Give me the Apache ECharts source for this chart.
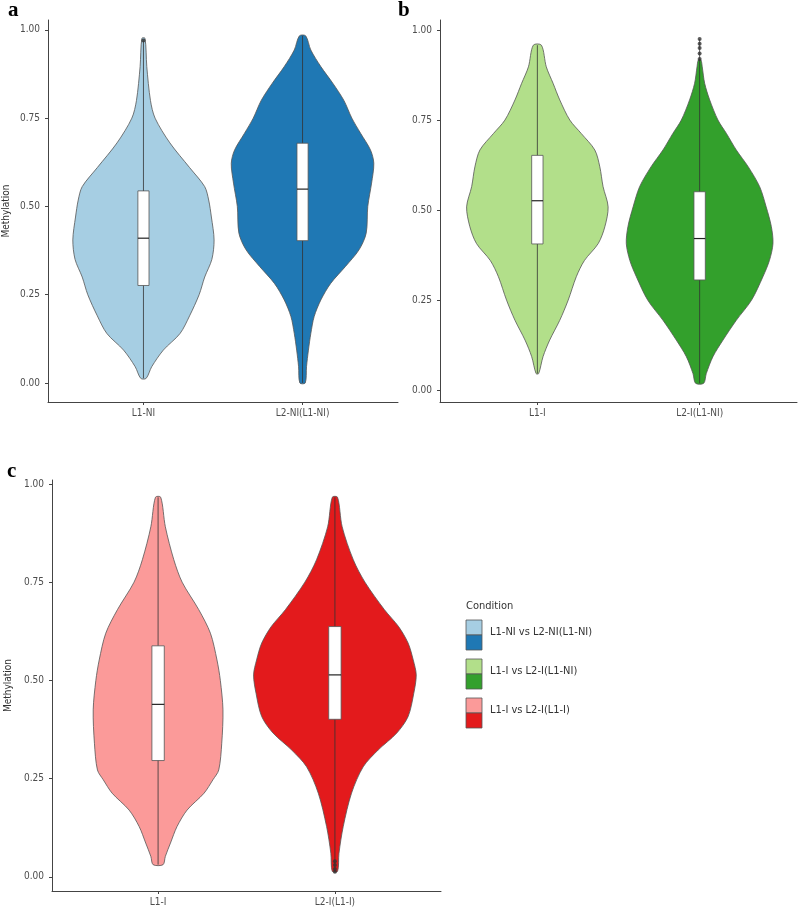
<!DOCTYPE html>
<html><head><meta charset="utf-8">
<script src="https://cdn.jsdelivr.net/npm/echarts@6/dist/echarts.min.js"></script>
<style>html,body{margin:0;padding:0;background:#fff}#chart{width:800px;height:916px}</style>
</head><body><div id="chart"></div>
<script>
const FONT = '"Liberation Sans Narrow","DejaVu Sans Condensed","Roboto",sans-serif';

// ---- categories & tick labels ----
const categoriesA = ['L1-NI', 'L2-NI(L1-NI)'];
const categoriesB = ['L1-I', 'L2-I(L1-NI)'];
const categoriesC = ['L1-I', 'L2-I(L1-I)'];
const yTicks = [0, 0.25, 0.5, 0.75, 1];
const legendLabels = ['L1-NI vs L2-NI(L1-NI)', 'L1-I vs L2-I(L1-NI)', 'L1-I vs L2-I(L1-I)'];

// ---- violin density profiles (methylation value, half-width) ----
const violinA1_y = [0.013,0.046,0.093,0.14,0.19,0.25,0.30,0.35,0.405,0.47,0.518,0.556,0.61,0.68,0.75,0.80,0.896,0.976];
const violinA1_w = [0.017,0.052,0.125,0.23,0.29,0.35,0.385,0.43,0.444,0.427,0.41,0.385,0.29,0.166,0.073,0.044,0.021,0.01];
const violinA2_y = [0.0,0.046,0.093,0.14,0.188,0.235,0.282,0.33,0.377,0.424,0.5,0.566,0.622,0.66,0.707,0.75,0.80,0.849,0.896,0.943,0.983];
const violinA2_w = [0.017,0.025,0.037,0.052,0.073,0.115,0.177,0.27,0.355,0.40,0.41,0.434,0.448,0.427,0.365,0.31,0.26,0.19,0.115,0.052,0.02];
const violinB1_y = [0.046,0.093,0.139,0.194,0.25,0.315,0.36,0.407,0.454,0.509,0.565,0.62,0.667,0.713,0.75,0.806,0.852,0.898,0.958];
const violinB1_w = [0.008,0.035,0.076,0.138,0.19,0.24,0.29,0.375,0.416,0.436,0.405,0.385,0.354,0.27,0.2,0.138,0.097,0.055,0.025];
const violinB2_y = [0.019,0.046,0.093,0.139,0.194,0.25,0.315,0.36,0.407,0.454,0.509,0.565,0.62,0.667,0.713,0.75,0.806,0.852,0.898,0.917];
const violinB2_w = [0.025,0.041,0.082,0.144,0.226,0.32,0.39,0.43,0.452,0.442,0.41,0.37,0.3,0.226,0.165,0.113,0.062,0.031,0.016,0.008];
const violinC1_y = [0.031,0.052,0.086,0.128,0.17,0.213,0.247,0.272,0.34,0.425,0.5,0.552,0.62,0.68,0.75,0.807,0.891,0.966];
const violinC1_w = [0.028,0.041,0.07,0.107,0.164,0.26,0.31,0.343,0.36,0.367,0.352,0.333,0.296,0.23,0.136,0.089,0.041,0.015];
const violinC2_y = [0.014,0.06,0.128,0.213,0.28,0.323,0.366,0.408,0.467,0.514,0.552,0.595,0.637,0.68,0.75,0.807,0.891,0.966];
const violinC2_w = [0.015,0.023,0.047,0.094,0.16,0.245,0.35,0.414,0.446,0.46,0.443,0.414,0.36,0.28,0.17,0.104,0.041,0.015];

// ---- box stats: [q1, median, q3, whiskerLow, whiskerHigh] ----
const boxA = [[0.276,0.41,0.544,0.013,0.97],[0.403,0.549,0.679,0.0,0.983]];
const boxB = [[0.406,0.526,0.652,0.046,0.958],[0.306,0.421,0.551,0.019,0.975]];
const boxC = [[0.296,0.439,0.588,0.031,0.966],[0.401,0.514,0.637,0.012,0.966]];

// ---- outliers [category, value] ----
const outliersA = [[1,0.97]];
const outliersB = [[2,0.92],[2,0.935],[2,0.95],[2,0.962],[2,0.975]];
const outliersC = [[2,0.013],[2,0.02],[2,0.03],[2,0.04]];

// ---- colours ----
const fillsA = ['#A6CEE3','#1F78B4'];
const fillsB = ['#B2DF8A','#33A02C'];
const fillsC = ['#FB9A99','#E31A1C'];

const grids = [
  {left:48, top:20, width:350, height:382},
  {left:440, top:20, width:357, height:382},
  {left:52, top:480, width:389, height:411}
];
const yRanges = [[-0.054,1.028],[-0.033,1.028],[-0.036,1.01]];
const cats = [categoriesA, categoriesB, categoriesC];
const yNames = ['Methylation','','Methylation'];

function xAxisFor(i){
  return {type:'value', gridIndex:i, min:0.4, max:2.6,
    splitLine:{show:false},
    axisLine:{show:true, onZero:false, lineStyle:{color:'#444', width:1}},
    axisTick:{show:true, customValues:[1,2], length:3, lineStyle:{color:'#444'}},
    axisLabel:{customValues:[1,2], formatter:v=>cats[i][Math.round(v)-1], color:'#4d4d4d', fontSize:10, fontFamily:FONT, margin:6}
  };
}
function yAxisFor(i){
  return {type:'value', gridIndex:i, min:yRanges[i][0], max:yRanges[i][1],
    splitLine:{show:false},
    name:yNames[i], nameLocation:'middle', nameRotate:90, nameGap:i===2?39:37,
    nameTextStyle:{color:'#333', fontSize:10, fontFamily:FONT},
    axisLine:{show:true, onZero:false, lineStyle:{color:'#444', width:1}},
    axisTick:{show:true, customValues:yTicks, length:3, lineStyle:{color:'#444'}},
    axisLabel:{customValues:yTicks, formatter:v=>v.toFixed(2), color:'#4d4d4d', fontSize:10, fontFamily:FONT, margin:8}
  };
}

function violinSeries(gi, profiles, boxes, fills){
  return {
    type:'custom', xAxisIndex:gi, yAxisIndex:gi, silent:true,
    data: boxes.map((b,i)=>[i+1, b[1]]),
    renderItem:(params, api)=>{
      const i = params.dataIndex, xc = i+1;
      const ys = profiles[i][0], ws = profiles[i][1];
      const pts = [];
      for (let k=0;k<ys.length;k++) pts.push(api.coord([xc+ws[k], ys[k]]));
      for (let k=ys.length-1;k>=0;k--) pts.push(api.coord([xc-ws[k], ys[k]]));
      const b = boxes[i], bw = 0.035;
      const tl = api.coord([xc-bw, b[2]]), br = api.coord([xc+bw, b[0]]);
      const m1 = api.coord([xc-bw, b[1]]), m2 = api.coord([xc+bw, b[1]]);
      const w1 = api.coord([xc, b[3]]), w2 = api.coord([xc, b[4]]);
      return {type:'group', children:[
        {type:'polygon', shape:{points:pts, smooth:0.3}, style:{fill:fills[i], stroke:'#555', lineWidth:0.8}},
        {type:'line', shape:{x1:w1[0], y1:w1[1], x2:w2[0], y2:w2[1]}, style:{stroke:'#333', lineWidth:0.8}},
        {type:'rect', shape:{x:tl[0], y:tl[1], width:br[0]-tl[0], height:br[1]-tl[1]}, style:{fill:'#fff', stroke:'#555', lineWidth:0.8}},
        {type:'line', shape:{x1:m1[0], y1:m1[1], x2:m2[0], y2:m2[1]}, style:{stroke:'#222', lineWidth:1.2}}
      ]};
    }
  };
}
function outlierSeries(gi, pts){
  return {type:'scatter', xAxisIndex:gi, yAxisIndex:gi, data:pts, symbolSize:4, silent:true,
    itemStyle:{color:'#333'}, z:5};
}

const legendGraphics = [{type:'text', left:466, top:601, style:{text:'Condition', fill:'#333', font:'11px '+FONT}}];
const legendFills = [fillsA, fillsB, fillsC];
[620, 659, 698].forEach((y, k)=>{
  legendGraphics.push({type:'rect', shape:{x:466, y:y, width:16, height:15}, style:{fill:legendFills[k][0], stroke:'#555', lineWidth:0.8}});
  legendGraphics.push({type:'rect', shape:{x:466, y:y+15, width:16, height:15}, style:{fill:legendFills[k][1], stroke:'#555', lineWidth:0.8}});
  legendGraphics.push({type:'text', left:490, top:y+7, style:{text:legendLabels[k], fill:'#333', font:'11px '+FONT}});
});

const panelLabels = [
  {type:'text', left:8, top:0, style:{text:'a', fill:'#000', font:'bold 21px "Liberation Serif","DejaVu Serif",serif'}},
  {type:'text', left:398, top:0, style:{text:'b', fill:'#000', font:'bold 21px "Liberation Serif","DejaVu Serif",serif'}},
  {type:'text', left:7, top:461, style:{text:'c', fill:'#000', font:'bold 21px "Liberation Serif","DejaVu Serif",serif'}}
];

const chart = echarts.init(document.getElementById('chart'), null, {renderer:'canvas'});
chart.setOption({
  animation:false,
  backgroundColor:'#fff',
  grid:grids,
  xAxis:[0,1,2].map(xAxisFor),
  yAxis:[0,1,2].map(yAxisFor),
  series:[
    violinSeries(0, [[violinA1_y,violinA1_w],[violinA2_y,violinA2_w]], boxA, fillsA),
    violinSeries(1, [[violinB1_y,violinB1_w],[violinB2_y,violinB2_w]], boxB, fillsB),
    violinSeries(2, [[violinC1_y,violinC1_w],[violinC2_y,violinC2_w]], boxC, fillsC),
    outlierSeries(0, outliersA),
    outlierSeries(1, outliersB),
    outlierSeries(2, outliersC)
  ],
  graphic: legendGraphics.concat(panelLabels)
});
</script></body></html>
